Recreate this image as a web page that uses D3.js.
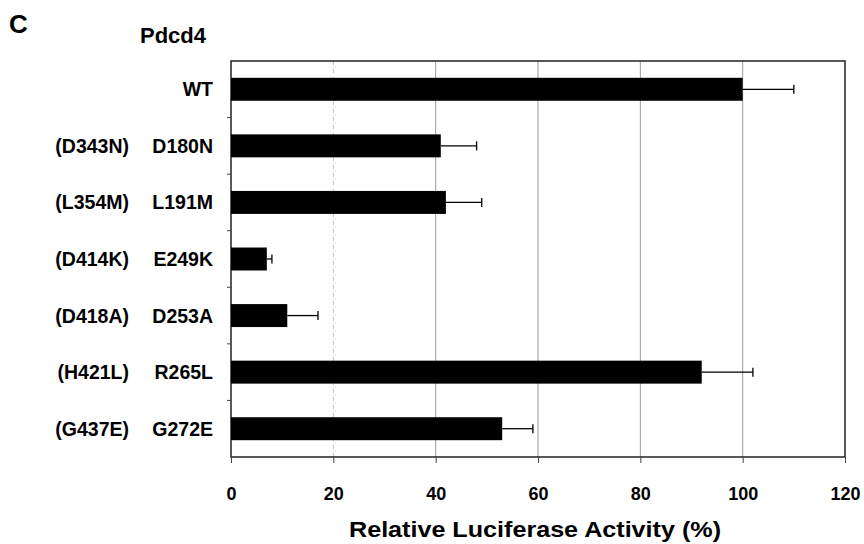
<!DOCTYPE html>
<html><head><meta charset="utf-8">
<script src="https://cdn.jsdelivr.net/npm/d3@7"></script>
<style>body{margin:0;background:#fff;} text{font-family:"Liberation Sans",Arial,sans-serif;font-weight:bold;}</style>
</head><body>
<svg id="c" width="864" height="544"></svg>
<script>
const mutants = ["WT","D180N","L191M","E249K","D253A","R265L","G272E"];
const homologs = ["","(D343N)","(L354M)","(D414K)","(D418A)","(H421L)","(G437E)"];
const values = [100,41,42,7,11,92,53];
const errors = [10,7,7,1,6,10,6];
const xTicks = [0,20,40,60,80,100,120];

const svg = d3.select("#c");
const m = {l:231, t:61, r:845, b:457};
const x = d3.scaleLinear().domain([0,120]).range([m.l,m.r]);
const y = d3.scaleBand().domain(mutants).range([m.t,m.b]).paddingInner(0.594).paddingOuter(0.297);

// gridlines
svg.append("g").selectAll("line").data(xTicks.filter(d=>d>0&&d<120)).join("line")
  .attr("x1",d=>x(d)).attr("x2",d=>x(d)).attr("y1",m.t).attr("y2",m.b)
  .attr("stroke",d=>d===20?"#bbb":"#999").attr("stroke-width",1)
  .attr("stroke-dasharray",d=>d===20?"4,4":null);

// frame
svg.append("rect").attr("x",m.l).attr("y",m.t).attr("width",m.r-m.l).attr("height",m.b-m.t)
  .attr("fill","none").attr("stroke","#222").attr("stroke-width",1.5);

// bars
svg.append("g").selectAll("rect").data(mutants).join("rect")
  .attr("x",x(0)).attr("y",d=>y(d)).attr("height",y.bandwidth())
  .attr("width",(d,i)=>x(values[i])-x(0)).attr("fill","#000");

// error bars
const eg = svg.append("g").attr("stroke","#000").attr("stroke-width",1.3);
mutants.forEach((d,i)=>{
  const cy = y(d)+y.bandwidth()/2;
  eg.append("line").attr("x1",x(values[i])).attr("x2",x(values[i]+errors[i])).attr("y1",cy).attr("y2",cy);
  eg.append("line").attr("x1",x(values[i]+errors[i])).attr("x2",x(values[i]+errors[i])).attr("y1",cy-4.5).attr("y2",cy+4.5);
});

// x axis
const xa = svg.append("g").attr("transform",`translate(0,${m.b})`)
  .call(d3.axisBottom(x).tickValues(xTicks).tickSize(6).tickPadding(24));
xa.select(".domain").remove();
xa.selectAll("line").attr("stroke","#444");
xa.selectAll("text").attr("font-size",18).attr("font-family","Liberation Sans, Arial, sans-serif").attr("font-weight","bold").attr("fill","#000");

// y ticks between categories
const step = y.step();
svg.append("g").selectAll("line").data(d3.range(1,7)).join("line")
  .attr("x1",m.l-4).attr("x2",m.l).attr("y1",i=>y(mutants[i])-(step-y.bandwidth())/2).attr("y2",i=>y(mutants[i])-(step-y.bandwidth())/2)
  .attr("stroke","#444");

svg.append("g").selectAll("text").data(mutants).join("text")
  .attr("x",213).attr("y",d=>y(d)+y.bandwidth()/2).attr("dy","0.36em")
  .attr("text-anchor","end").attr("font-size",19.5).text(d=>d);
svg.append("g").selectAll("text").data(homologs).join("text")
  .attr("x",129).attr("y",(d,i)=>y(mutants[i])+y.bandwidth()/2).attr("dy","0.36em")
  .attr("text-anchor","end").attr("font-size",19.5).text(d=>d);

svg.append("text").attr("x",140).attr("y",43).attr("font-size",22).text("Pdcd4");
svg.append("text").attr("x",9).attr("y",33).attr("font-size",26).text("C");
svg.append("text").attr("x",349).attr("y",537).attr("font-size",22)
  .attr("textLength",372).attr("lengthAdjust","spacingAndGlyphs").text("Relative Luciferase Activity (%)");
</script>
</body></html>
